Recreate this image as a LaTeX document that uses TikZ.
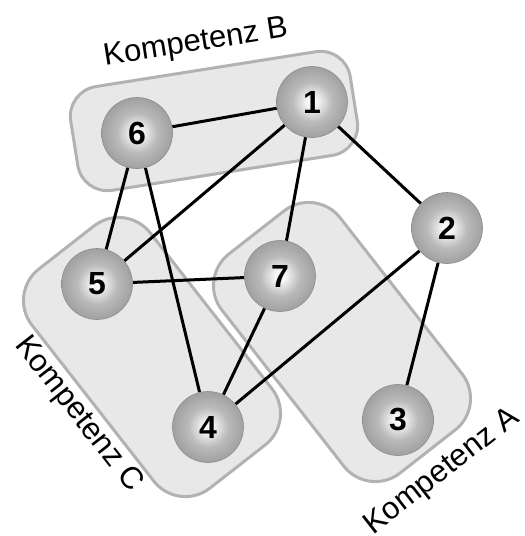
\documentclass[tikz,border=0pt]{standalone}
\usepackage{fontspec}
\setmainfont{Liberation Sans}
\pgfdeclarelayer{bg}
\pgfdeclarelayer{edges}
\pgfsetlayers{bg,edges,main}
\pgfdeclareradialshading{sphere}{\pgfpoint{0bp}{0bp}}{%
  color(0bp)=(white); color(4bp)=(black!4); color(14bp)=(black!27);
  color(26bp)=(black!38); color(40bp)=(black!46); color(50bp)=(black!53)}
\begin{document}
\begin{tikzpicture}[x=1pt,y=-1pt,
  ball/.style={circle, minimum size=71pt, inner sep=0pt, shading=sphere,
    draw=black!45, line width=0.6pt, font=\fontsize{32}{32}\selectfont\bfseries},
  group/.style={draw=black!30, fill=black!9, line width=3pt, inner sep=0pt},
  lbl/.style={font=\fontsize{31}{31}\selectfont, anchor=base, inner sep=0pt},
  link/.style={line width=3pt}]
\useasboundingbox (0,0) rectangle (525,536);
\begin{pgfonlayer}{bg}
  \node[group, rounded corners=30pt, minimum width=283pt, minimum height=105pt, rotate=9] (gB) at (214,121) {};
  \node[group, rounded corners=40pt, minimum width=278pt, minimum height=150pt, rotate=-52] (gC) at (152,357) {};
  \node[group, rounded corners=40pt, minimum width=278pt, minimum height=150pt, rotate=-52] (gA) at (342,342) {};
\end{pgfonlayer}
\node[lbl, rotate=9] (tB) at (197,51) {Kompetenz B};
\node[lbl, rotate=-52] (tC) at (72,419) {Kompetenz C};
\node[lbl, rotate=38] (tA) at (447,478) {Kompetenz A};
\node[ball] (n1) at (312,102) {1};
\node[ball] (n6) at (137,133) {6};
\node[ball] (n2) at (447,228) {2};
\node[ball] (n5) at (97,284) {5};
\node[ball] (n7) at (280,276) {7};
\node[ball] (n4) at (208,427) {4};
\node[ball] (n3) at (398,420) {3};
\begin{pgfonlayer}{edges}
  \draw[link] (n6) -- (n1);
  \draw[link] (n6) -- (n5);
  \draw[link] (n6) -- (n4);
  \draw[link] (n1) -- (n5);
  \draw[link] (n1) -- (n7);
  \draw[link] (n1) -- (n2);
  \draw[link] (n5) -- (n7);
  \draw[link] (n7) -- (n4);
  \draw[link] (n4) -- (n2);
  \draw[link] (n2) -- (n3);
\end{pgfonlayer}
\end{tikzpicture}
\end{document}
